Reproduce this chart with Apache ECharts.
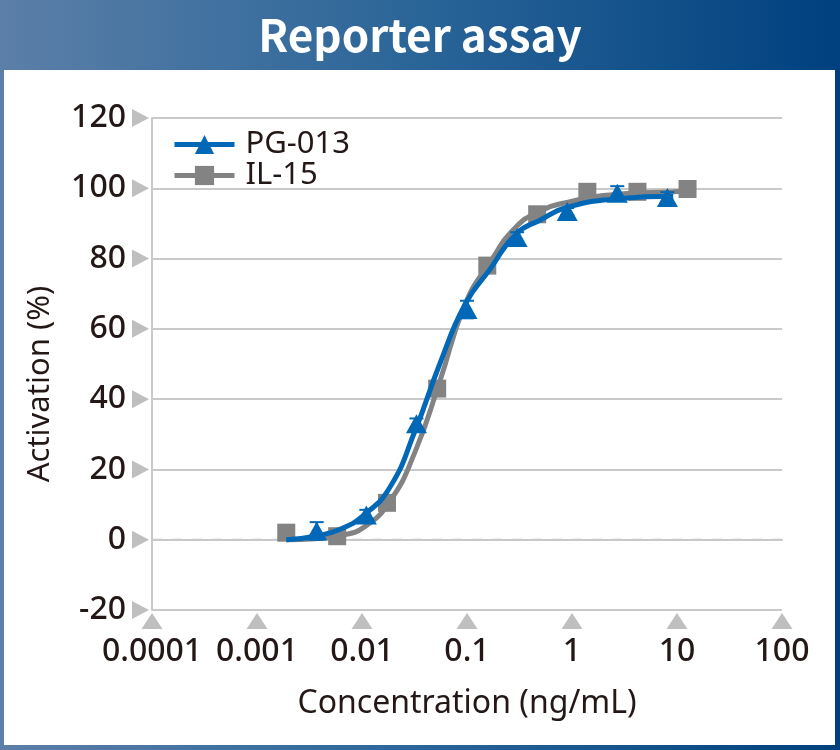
<!DOCTYPE html>
<html><head><meta charset="utf-8">
<script src="https://cdn.jsdelivr.net/npm/echarts@6/dist/echarts.min.js"></script>
<style>html,body{margin:0;padding:0;}#c{width:840px;height:750px;}</style>
</head><body><div id="c"></div>
<script>
// ---- data ----
const pgConc = [0.0037, 0.011, 0.033, 0.1, 0.3, 0.9, 2.7, 8.1];
const pgAct  = [2.5, 7, 33, 65.5, 86, 93.4, 98.6, 97.4];
const pgErr  = [2.5, 1.5, 1.5, 2.5, 1.5, 1, 2, 1.5];
const ilConc = [0.0019, 0.0058, 0.0173, 0.052, 0.156, 0.466, 1.4, 4.2, 12.6];
const ilAct  = [2, 1, 10.5, 43, 78, 92.6, 99, 99, 99.8];
const ilErr  = [0.5, 0.5, 0.5, 1, 1, 0.5, 0.5, 0.5, 2];
// fitted curves
const pgFitConc = [0.0019, 0.0036, 0.0062, 0.0104, 0.0185, 0.032, 0.055, 0.096, 0.166, 0.293, 0.5, 0.9, 2.7, 9.2];
const pgFitAct  = [0, 1, 3, 7, 15, 31, 50, 67, 77, 87, 91, 94.6, 97, 97.7];
const ilFitConc = [0.0019, 0.0036, 0.0062, 0.0104, 0.0185, 0.032, 0.055, 0.096, 0.166, 0.293, 0.5, 0.9, 2.7, 9.2, 12.7];
const ilFitAct  = [0, 0.3, 1.2, 3.5, 11, 25, 45, 67, 79, 89, 93.5, 96, 98.3, 99, 99.2];
const xTicks = [0.0001, 0.001, 0.01, 0.1, 1, 10, 100];
const xTickLabels = ['0.0001', '0.001', '0.01', '0.1', '1', '10', '100'];
const yTicks = [-20, 0, 20, 40, 60, 80, 100, 120];

const txt = '#231815', grid = '#c9c9c9', tickCol = '#bfbfbf';
const blue = '#0068b7', gray = '#838383';
const font = 'Noto Sans';
const zip = (a, b) => a.map((v, i) => [v, b[i]]);

function errSeries(conc, act, err, color, z) {
  return {type: 'custom', silent: true, z: z,
    data: conc.map((c, i) => [c, act[i] - err[i], act[i] + err[i]]),
    renderItem: (params, api) => {
      const lo = api.coord([api.value(0), api.value(1)]);
      const hi = api.coord([api.value(0), api.value(2)]);
      const w = 7;
      const st = {stroke: color, lineWidth: 2};
      return {type: 'group', children: [
        {type: 'line', shape: {x1: lo[0], y1: lo[1], x2: hi[0], y2: hi[1]}, style: st},
        {type: 'line', shape: {x1: lo[0] - w, y1: lo[1], x2: lo[0] + w, y2: lo[1]}, style: st},
        {type: 'line', shape: {x1: hi[0] - w, y1: hi[1], x2: hi[0] + w, y2: hi[1]}, style: st}]};
    }};
}

// tick markers: kind 0 = y-axis (pointing right), kind 1 = x-axis (pointing up)
const tickData = yTicks.map(v => [xTicks[0], v, 0]).concat(xTicks.map(v => [v, yTicks[0], 1]));
const tickSeries = {type: 'custom', silent: true, clip: false, z: 10, data: tickData,
  renderItem: (params, api) => {
    const p = api.coord([api.value(0), api.value(1)]);
    let pts;
    if (api.value(2) === 0) {
      pts = [[p[0] - 20, p[1] - 9], [p[0] - 3, p[1]], [p[0] - 20, p[1] + 9]];
    } else {
      pts = [[p[0] - 10.5, p[1] + 19], [p[0], p[1] + 3], [p[0] + 10.5, p[1] + 19]];
    }
    return {type: 'polygon', shape: {points: pts}, style: {fill: tickCol}, z2: 100};
  }};

const chart = echarts.init(document.getElementById('c'));
chart.setOption({
  backgroundColor: new echarts.graphic.LinearGradient(0, 0, 1, 0, [
    {offset: 0, color: '#5b7fa8'}, {offset: 0.5, color: '#2a6598'}, {offset: 1, color: '#00407f'}]),
  title: {text: 'Reporter assay', left: 'center', top: 8,
    textStyle: {color: '#fff', fontSize: 44, fontWeight: 'bold', fontFamily: 'Noto Sans CJK JP'}},
  graphic: [{type: 'rect', z: -10, shape: {x: 4, y: 70, width: 831, height: 675}, style: {fill: '#fff'}}],
  grid: {left: 152, right: 58, top: 118, bottom: 140},
  legend: {left: 172, top: 129, padding: 0, orient: 'vertical', itemWidth: 60, itemHeight: 24, itemGap: 0,
    data: ['PG-013', 'IL-15'], lineStyle: {width: 5},
    textStyle: {fontSize: 31, color: txt, fontFamily: font, padding: [0, 0, 0, 6]}},
  xAxis: {type: 'log', logBase: 10, min: 0.0001, max: 100,
    name: 'Concentration (ng/mL)', nameLocation: 'middle', nameGap: 78,
    nameTextStyle: {fontSize: 32, color: txt, fontFamily: font},
    axisLine: {lineStyle: {color: grid, width: 2}},
    axisTick: {show: false}, splitLine: {show: false}, minorTick: {show: false},
    axisLabel: {margin: 26, fontSize: 32, fontWeight: 500, color: txt, fontFamily: font,
      formatter: (v, i) => xTickLabels[i]}},
  yAxis: {type: 'value', min: -20, max: 120, interval: 20,
    name: 'Activation (%)', nameLocation: 'middle', nameGap: 96,
    nameTextStyle: {fontSize: 31, color: txt, fontFamily: font, padding: [0, 40, 0, 0]},
    axisLine: {show: true, lineStyle: {color: grid, width: 2}},
    axisTick: {show: false},
    splitLine: {lineStyle: {width: 2, color: [grid, 'rgba(0,0,0,0)', grid, grid, grid, grid, grid, grid]}},
    axisLabel: {margin: 26, fontSize: 32, fontWeight: 500, color: txt, fontFamily: font}},
  series: [
    {type: 'line', name: 'zero', data: [[0.0001, 0], [100, 0]], symbol: 'none', silent: true,
      lineStyle: {color: grid, width: 2, type: [10, 10]}, z: 1},
    tickSeries,
    {type: 'line', name: 'IL-15', data: zip(ilFitConc, ilFitAct), smooth: true, showSymbol: false,
      symbol: 'rect', symbolSize: 18, color: gray, lineStyle: {color: gray, width: 5}, z: 2},
    errSeries(ilConc, ilAct, ilErr, gray, 3),
    {type: 'scatter', name: 'IL-15 data', data: zip(ilConc, ilAct), symbol: 'rect', symbolSize: 18,
      itemStyle: {color: gray, opacity: 1}, z: 3},
    {type: 'line', name: 'PG-013', data: zip(pgFitConc, pgFitAct), smooth: true, showSymbol: false,
      symbol: 'triangle', symbolSize: 20, color: blue, lineStyle: {color: blue, width: 5}, z: 4},
    errSeries(pgConc, pgAct, pgErr, blue, 5),
    {type: 'scatter', name: 'PG-013 data', data: zip(pgConc, pgAct), symbol: 'triangle', symbolSize: [21, 19],
      itemStyle: {color: blue, opacity: 1}, z: 5}
  ]
});
</script></body></html>
